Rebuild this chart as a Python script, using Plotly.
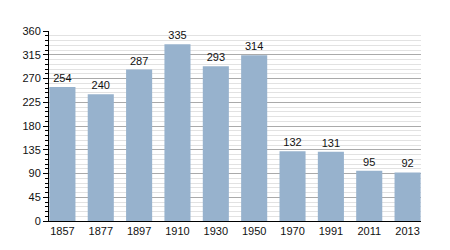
import plotly.graph_objects as go

years = ["1857", "1877", "1897", "1910", "1930", "1950", "1970", "1991", "2011", "2013"]
population = [254, 240, 287, 335, 293, 314, 132, 131, 95, 92]
y_ticks = [0, 45, 90, 135, 180, 225, 270, 315, 360]

fig = go.Figure(go.Bar(
    x=years, y=population,
    marker=dict(color="#97b2cd", line=dict(width=0)),
    text=[str(v) for v in population],
    textposition="outside",
    textfont=dict(family="Liberation Sans, Arial", size=11, color="#111"),
    cliponaxis=False,
    width=0.68,
))

fig.update_layout(
    width=450, height=250,
    margin=dict(l=49, r=29, t=31, b=29),
    paper_bgcolor="white", plot_bgcolor="white",
    font=dict(family="Liberation Sans, Arial", size=11, color="#111"),
    showlegend=False,
)
fig.update_xaxes(
    type="category", range=[-0.35, 9.35],
    showline=True, linecolor="black", linewidth=1,
    ticks="", showgrid=False, tickfont=dict(size=11),
)
fig.update_yaxes(
    range=[0, 360], tickvals=y_ticks,
    showline=True, linecolor="black", linewidth=1,
    ticks="outside", ticklen=5, tickcolor="black",
    showgrid=True, gridcolor="#aaaaaa", gridwidth=1,
    zeroline=False,
    minor=dict(dtick=9, ticks="outside", ticklen=3, tickcolor="black",
               showgrid=True, gridcolor="#e2e2e2", gridwidth=1),
    tickfont=dict(size=11),
)

fig.write_html("out.html")
